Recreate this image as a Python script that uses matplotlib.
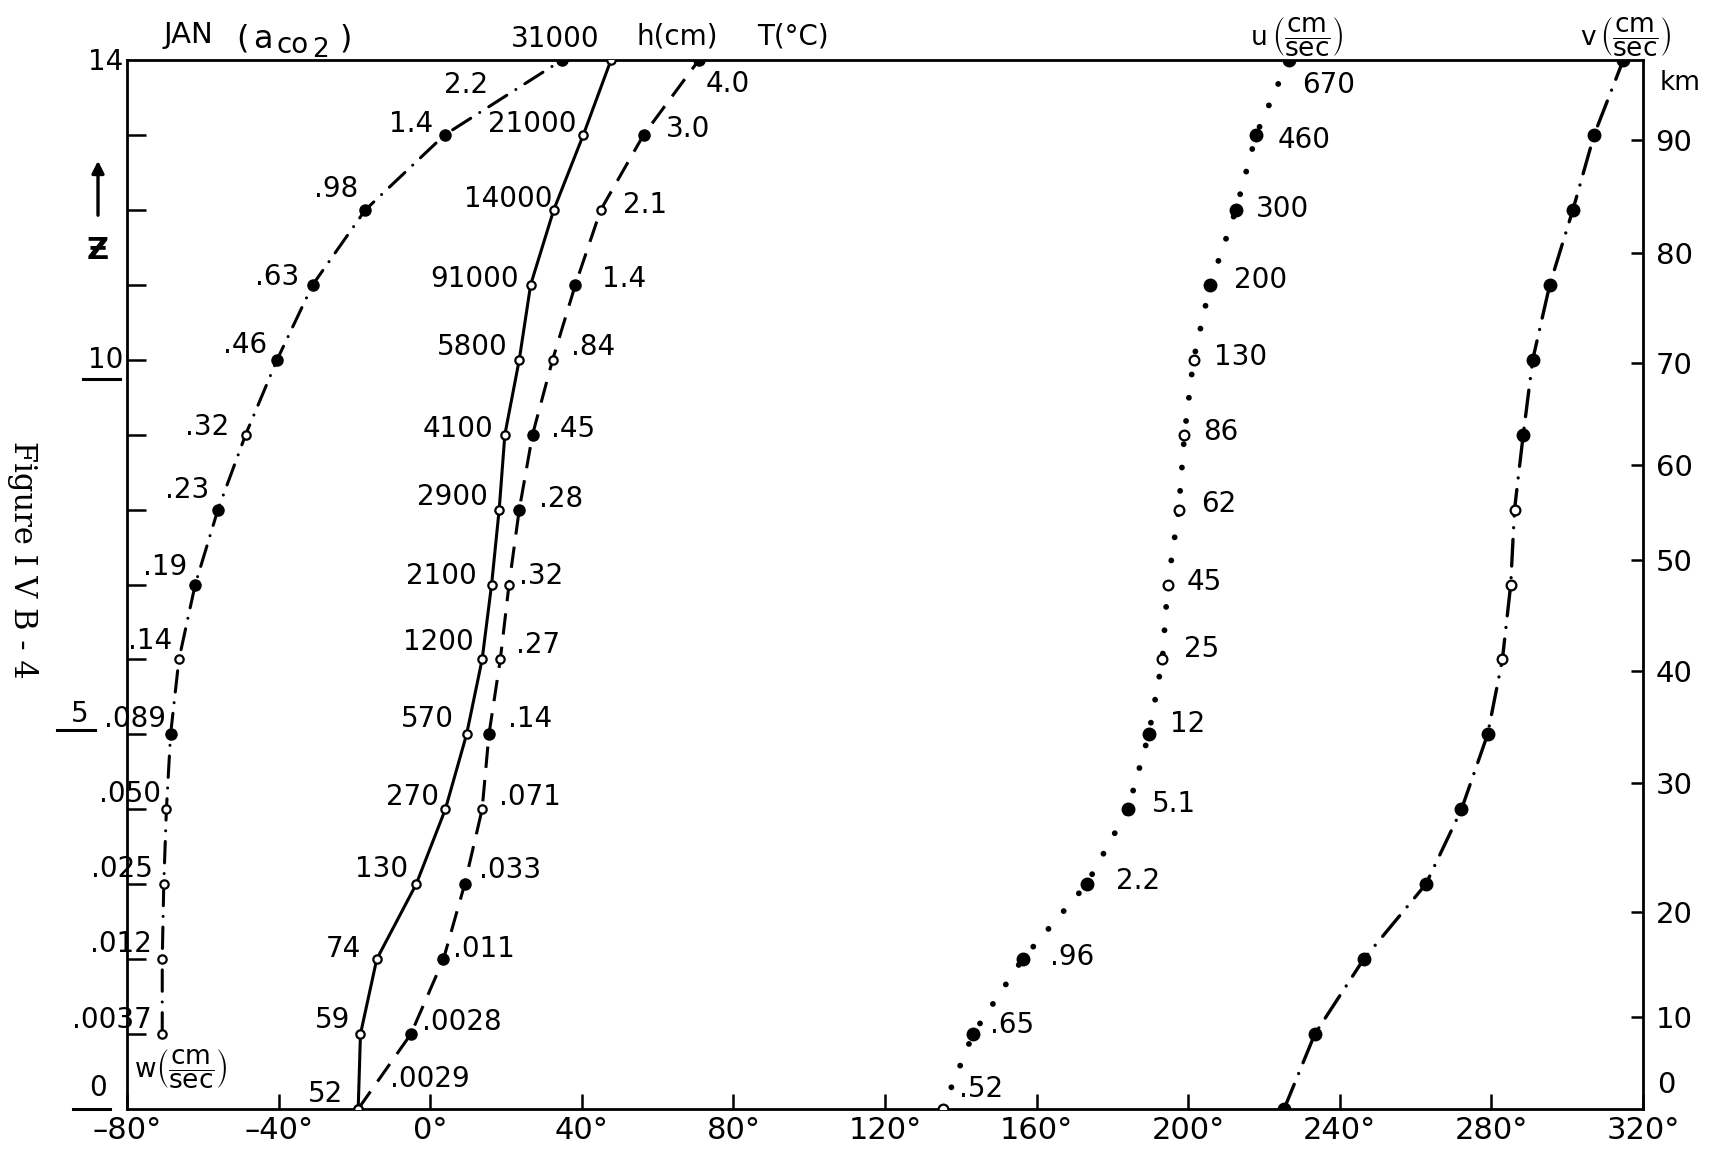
import matplotlib
matplotlib.use("Agg")
import matplotlib.pyplot as plt
from matplotlib.lines import Line2D

plt.rcParams["font.family"] = ["DejaVu Sans"]
plt.rcParams["mathtext.fontset"] = "dejavusans"

# ---------------------------------------------------------------- data
# levels in scale heights
z_levels = list(range(0, 15))
w_levels = list(range(1, 15))

# phase (degrees) of each tidal field at each level
w_phase = [-70.7, -70.7, -70.3, -69.6, -68.5, -66.3, -62.0, -56.0, -48.7,
           -40.4, -31.0, -17.1, 3.8, 34.8]
h_phase = [-19.0, -18.4, -14.1, -3.7, 4.0, 9.6, 13.7, 16.2, 18.2, 19.7,
           23.5, 26.5, 32.6, 40.4, 47.7]
T_phase = [-19.0, -5.1, 3.5, 9.1, 13.7, 15.5, 18.5, 20.8, 23.5, 27.0,
           32.3, 38.3, 45.0, 56.3, 70.9]
u_phase = [135.2, 143.2, 156.3, 173.2, 184.1, 189.6, 193.2, 194.6, 197.5,
           199.0, 201.4, 205.8, 212.6, 217.9, 226.5]
v_phase = [225.3, 233.4, 246.3, 262.7, 272.1, 279.0, 282.9, 285.1, 286.1,
           288.4, 290.9, 295.4, 301.5, 307.1, 314.8]

# amplitudes written beside the points
w_amp = [".0037", ".012", ".025", ".050", ".089", ".14", ".19", ".23", ".32",
         ".46", ".63", ".98", "1.4", "2.2"]
h_amp = ["52", "59", "74", "130", "270", "570", "1200", "2100", "2900", "4100",
         "5800", "91000", "14000", "21000", "31000"]
T_amp = [".0029", ".0028", ".011", ".033", ".071", ".14", ".27", ".32", ".28",
         ".45", ".84", "1.4", "2.1", "3.0", "4.0"]
u_amp = [".52", ".65", ".96", "2.2", "5.1", "12", "25", "45", "62", "86",
         "130", "200", "300", "460", "670"]

# phase axis
phase_ticks = [-80, -40, 0, 40, 80, 120, 160, 200, 240, 280, 320]

# geometric height (km) against scale-height level
km_values = [10, 20, 30, 40, 50, 60, 70, 80, 90]
km_levels = [1.23, 2.63, 4.35, 5.84, 7.33, 8.59, 9.95, 11.42, 12.93]

# ---------------------------------------------------------------- layout
# label offsets in points: (dx to the text edge, dy to the text middle)
w_off = [(-7.5, 11.4), (-7.5, 12.5), (-8, 12.6), (-4, 12.7), (-3, 12.7),
         (-5, 15), (-6, 14), (-6, 15.3), (-11.6, 7), (-7, 11.8), (-10, 7),
         (-5, 16.7), (-8.3, 9.6), (-53.6, -16.8)]
h_off = [(-10.6, 12.5), (-7.6, 11.4), (-11, 9), (-6, 12.6), (-4.6, 10.3),
         (-9.5, 12.7), (-6.2, 14), (-11, 8), (-8, 10.5), (-8.3, 5.7),
         (-8.3, 10.6), (-8.3, 5.8), (-1, 9.5), (-5, 9.6), (-8, 16.8)]
T_off = [(23, 23), (8, 10), (7, 9), (10, 11.5), (12, 10.3), (13.7, 12.7),
         (11.6, 11.6), (7.5, 8), (14.5, 9.3), (13, 5.7), (13, 10.6),
         (19.4, 5.8), (15.7, 4.8), (15.7, 6), (5, -15.6)]
u_off = [(12, 16), (12, 7.8), (19.7, 3), (21, 4.2), (17, 5.5), (15.6, 9.2),
         (15.8, 9.2), (13.8, 3.2), (15.8, 5.7), (13.7, 3.3), (15, 3.4),
         (17, 4.7), (14.2, 2.3), (15.4, -2.4), (10, -16.8)]

# which points are drawn as open circles
w_open = [1, 1, 1, 1, 0, 1, 0, 0, 1, 0, 0, 0, 0, 0]
h_open = [1] * 15
T_open = [1, 0, 0, 0, 1, 0, 1, 1, 0, 0, 1, 0, 1, 0, 0]
u_open = [1, 0, 0, 0, 0, 0, 1, 1, 1, 1, 1, 0, 0, 0, 0]
v_open = [0, 0, 0, 0, 0, 0, 1, 1, 1, 0, 0, 0, 0, 0, 0]

W, H = 1711, 1151
LABEL_FS = 20


def fx(px):
    return px / W


def fy(py):
    return 1 - py / H


fig = plt.figure(figsize=(W / 100, H / 100), dpi=100)
fig.patch.set_facecolor("white")
ax = fig.add_axes([fx(127), fy(1109), fx(1643) - fx(127), fy(60) - fy(1109)])
ax.set_xlim(-80, 320)
ax.set_ylim(0, 14)
for sp in ax.spines.values():
    sp.set_linewidth(2.0)


def draw_series(x, z, open_flags, ms_fill, ms_open, **line_kw):
    ax.plot(x, z, color="black", zorder=2, **line_kw)
    for xi, zi, op in zip(x, z, open_flags):
        if op:
            ax.plot(xi, zi, "o", ms=ms_open, mfc="white", mec="black",
                    mew=1.6, zorder=3)
        else:
            ax.plot(xi, zi, "o", ms=ms_fill, color="black", zorder=3)


def write_labels(x, z, texts, offsets, ha):
    for xi, zi, s, (dx, dy) in zip(x, z, texts, offsets):
        ax.annotate(s, (xi, zi), xytext=(dx, dy - 0.365 * LABEL_FS),
                    textcoords="offset points", ha=ha, va="baseline",
                    fontsize=LABEL_FS, annotation_clip=False, zorder=4)


# vertical velocity w
draw_series(w_phase, w_levels, w_open, 8, 6, lw=2.2,
            dashes=(7, 3.5, 0.01, 3.5), dash_capstyle="round")
write_labels(w_phase, w_levels, w_amp, w_off, "right")

# height perturbation h
draw_series(h_phase, z_levels, h_open, 7, 6, lw=2.2)
write_labels(h_phase, z_levels, h_amp, h_off, "right")

# temperature T
draw_series(T_phase, z_levels, T_open, 8, 6, lw=2.2, dashes=(7, 4))
write_labels(T_phase, z_levels, T_amp, T_off, "left")

# eastward wind u
draw_series(u_phase, z_levels, u_open, 9, 7, lw=4.2,
            dashes=(0.01, 4.0), dash_capstyle="round")
write_labels(u_phase, z_levels, u_amp, u_off, "left")

# northward wind v
draw_series(v_phase, z_levels, v_open, 9, 7, lw=2.4,
            dashes=(8, 3.5, 0.01, 3.5), dash_capstyle="round")

# phase axis
ax.set_xticks(phase_ticks)
ax.set_xticklabels([f"{t}°".replace("-", "\u2013") for t in phase_ticks])
ax.tick_params(axis="x", direction="in", length=11, width=1.8, pad=5,
               labelsize=22)

# level ticks on the left (labels written separately)
ax.set_yticks(range(1, 14))
ax.set_yticklabels([])
ax.tick_params(axis="y", direction="in", length=14, width=1.8)

# km scale on the right
ax2 = ax.twinx()
ax2.set_ylim(0, 14)
ax2.set_yticks(km_levels)
ax2.set_yticklabels([str(k) for k in km_values])
ax2.tick_params(axis="y", direction="in", length=9, width=1.8, pad=9,
                labelsize=21)
for sp in ax2.spines.values():
    sp.set_visible(False)
fig.text(fx(1666), fy(1085), "0", ha="center", va="center", fontsize=21)
fig.text(fx(1680), fy(83), "km", ha="center", va="center", fontsize=19)

# left-hand level labels
fig.text(fx(123), fy(62), "14", ha="right", va="center", fontsize=20)
fig.text(fx(123), fy(360), "10", ha="right", va="center", fontsize=20)
fig.text(fx(80), fy(714), "5", ha="center", va="center", fontsize=20)
fig.text(fx(98), fy(1088), "0", ha="center", va="center", fontsize=20)
for x0, x1, yy in [(83, 120, 379), (57, 95, 730), (73, 110, 1109)]:
    fig.add_artist(Line2D([fx(x0), fx(x1)], [fy(yy), fy(yy)],
                          transform=fig.transFigure, color="black", lw=2.2))

# upward arrow and Z
ax.annotate("", xy=(fx(98), fy(158)), xytext=(fx(98), fy(218)),
            xycoords="figure fraction", textcoords="figure fraction",
            arrowprops=dict(arrowstyle="-|>", lw=2.4, color="black",
                            mutation_scale=18))
fig.text(fx(98), fy(250), "Ƶ", ha="center", va="center", fontsize=22,
         fontweight="bold")

# heading: JAN (a_co2)
fig.text(fx(163), fy(43), "JAN", ha="left", va="baseline", fontsize=21)
fig.text(fx(236), fy(48), "(", ha="left", va="baseline", fontsize=23)
fig.text(fx(253), fy(48), "a", ha="left", va="baseline", fontsize=23)
fig.text(fx(277), fy(53), "co", ha="left", va="baseline", fontsize=20)
fig.text(fx(312), fy(57), "2", ha="left", va="baseline", fontsize=19)
fig.text(fx(340), fy(48), ")", ha="left", va="baseline", fontsize=23)

fig.text(fx(718), fy(44), "h(cm)", ha="right", va="baseline", fontsize=20)
fig.text(fx(829), fy(44), "T(°C)", ha="right", va="baseline", fontsize=20)

# velocity units: letter followed by a (cm/sec) fraction
frac = r"$\left(\dfrac{\mathrm{cm}}{\mathrm{sec}}\right)$"
fig.text(fx(1251), fy(38), "u", ha="left", va="center", fontsize=19)
fig.text(fx(1272), fy(37), frac, ha="left", va="center", fontsize=19)
fig.text(fx(1580), fy(38), "v", ha="left", va="center", fontsize=19)
fig.text(fx(1600), fy(37), frac, ha="left", va="center", fontsize=19)
fig.text(fx(135), fy(1070), "w", ha="left", va="center", fontsize=19)
fig.text(fx(156), fy(1068), frac, ha="left", va="center", fontsize=19)

# figure number along the left margin
fig.text(fx(22), fy(560), "Figure I V B - 4", rotation=-90, ha="center",
         va="center", fontsize=22, family="DejaVu Serif")

fig.savefig("out.png", dpi=100, facecolor="white")
